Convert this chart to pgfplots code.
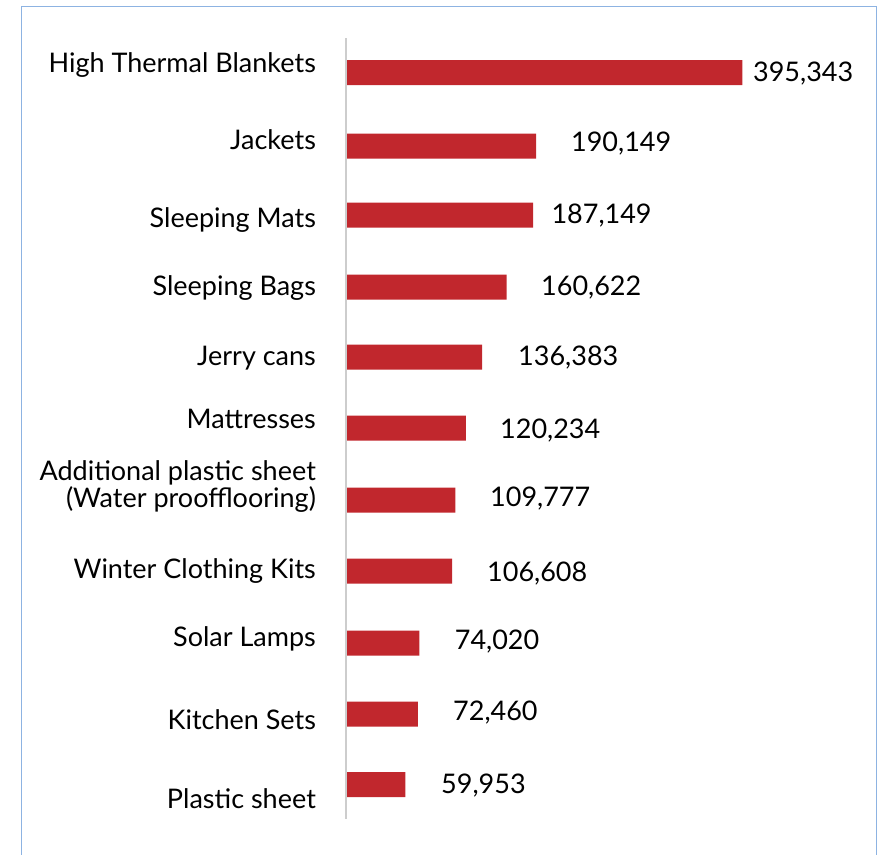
\documentclass[border=0pt]{standalone}
\usepackage{pgfplots}
\pgfplotsset{compat=1.18}
\usepackage{pgfplotstable}
\usepackage{fontspec}
\setmainfont{Lato}
\definecolor{barred}{RGB}{193,39,45}
\definecolor{frameblue}{RGB}{141,179,226}
\definecolor{axgray}{RGB}{205,205,205}

% v = value, y = bar centre (px from top, negative), label, dx = gap to label (px), dy = vertical label shift (px)
\pgfplotstableread{
v       y     label    dx    dy
395343  -72.5 395,343  10.6  -1.5
190149  -146  190,149  34.8  2.5
187149  -215  187,149  18.2  -0.5
160622  -287  160,622  34.5  -0.5
136383  -357  136,383  35.9  -0.5
120234  -428  120,234  34.1  -2.5
109777  -500  109,777  34.6  1.5
106608  -571  106,608  34.8  -2.5
74020   -643  74,020   35.2  1.5
72460   -714  72,460   35.1  1.5
59953   -784.5 59,953  35.7  -1.5
}\datatable

\begin{document}
\begin{tikzpicture}
\path[use as bounding box] (0,0) rectangle (882pt,-854pt);
\draw[frameblue, line width=1.3pt] (21.7pt,-860pt) -- (21.7pt,-6.3pt) -- (876.3pt,-6.3pt) -- (876.3pt,-860pt);
\begin{axis}[
  at={(345.1pt,0pt)}, anchor=north west,
  scale only axis, width=530.9pt, height=854pt,
  xmin=0, xmax=528352, ymin=-854, ymax=0,
  clip=false,
  axis line style={draw=none},
  major tick length=0pt,
  xtick=\empty,
  ytick={-62.5,-140,-218,-286,-356,-419,-484,-569,-637,-720,-799},
  yticklabels={High Thermal Blankets, Jackets, Sleeping Mats, Sleeping Bags, Jerry cans, Mattresses, {Additional plastic sheet\\(Water proofflooring)}, Winter Clothing Kits, Solar Lamps, Kitchen Sets, Plastic sheet},
  yticklabel style={anchor=east, align=right, inner sep=0pt, xshift=-29pt, text depth=0pt, font=\fontsize{27}{25.5}\selectfont},
  xbar, bar width=25pt, bar shift=0pt,
]
\addplot[fill=barred, draw=none,
  point meta=explicit symbolic,
  visualization depends on={\thisrow{dx} \as \dx},
  visualization depends on={\thisrow{dy} \as \dy},
  nodes near coords,
  nodes near coords style={anchor=west, inner sep=0pt, text=black, font=\fontsize{27}{28}\selectfont, xshift=\dx pt, yshift=\dy pt},
] table[x=v, y=y, meta=label] {\datatable};
\end{axis}
\fill[axgray] (344.8pt,-38pt) rectangle (347.4pt,-819pt);
\end{tikzpicture}
\end{document}
